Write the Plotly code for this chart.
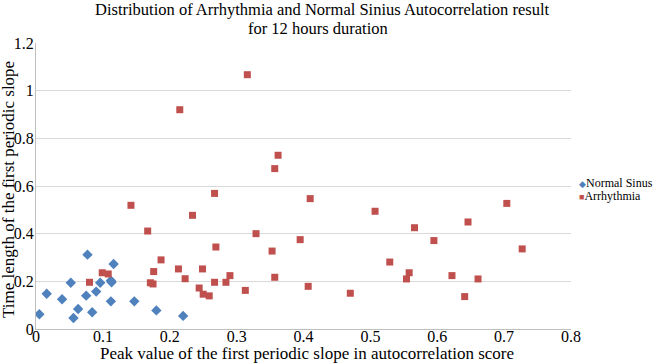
import plotly.graph_objects as go

normal_x = [0.005, 0.016, 0.039, 0.052, 0.056, 0.063, 0.075, 0.077, 0.084, 0.090,
            0.096, 0.112, 0.113, 0.112, 0.116, 0.147, 0.180, 0.220]
normal_y = [0.062, 0.148, 0.125, 0.194, 0.046, 0.084, 0.140, 0.312, 0.070, 0.157,
            0.194, 0.203, 0.196, 0.116, 0.273, 0.116, 0.078, 0.055]

arr_x = [0.080, 0.099, 0.108, 0.142, 0.167, 0.171, 0.175, 0.176, 0.187, 0.213,
         0.215, 0.223, 0.234, 0.244, 0.249, 0.250, 0.259, 0.267, 0.269, 0.267,
         0.284, 0.290, 0.313, 0.316, 0.329, 0.353, 0.357, 0.362, 0.357, 0.395,
         0.410, 0.407, 0.470, 0.507, 0.529, 0.558, 0.554, 0.566, 0.595, 0.622,
         0.641, 0.646, 0.661, 0.704, 0.727]
arr_y = [0.196, 0.236, 0.231, 0.519, 0.411, 0.194, 0.189, 0.241, 0.290, 0.252,
         0.920, 0.211, 0.477, 0.172, 0.252, 0.146, 0.139, 0.569, 0.344, 0.196,
         0.196, 0.224, 0.162, 1.067, 0.400, 0.327, 0.673, 0.729, 0.217, 0.375,
         0.547, 0.179, 0.150, 0.494, 0.281, 0.236, 0.210, 0.425, 0.371, 0.224,
         0.136, 0.449, 0.210, 0.527, 0.336]

title_lines = ["Distribution of Arrhythmia and Normal Sinius Autocorrelation result",
               "for 12 hours duration"]
x_title = "Peak value of the first periodic slope in autocorrelation score"
y_title = "Time length of the first periodic slope"
series_names = ["Normal Sinus", "Arrhythmia"]
series_colors = ["#4F81BD", "#C0504D"]

serif = "Times New Roman, Liberation Serif, serif"
W, H = 657, 364
L, R, T, B = 36, 86, 43, 35
PW, PH = W - L - R, H - T - B


def px(x):
    return (x - L) / PW


def py(y):
    return (H - B - y) / PH


fig = go.Figure()
fig.add_trace(go.Scatter(x=normal_x, y=normal_y, mode="markers", name=series_names[0],
                         marker=dict(symbol="diamond", size=8, color=series_colors[0])))
fig.add_trace(go.Scatter(x=arr_x, y=arr_y, mode="markers", name=series_names[1],
                         marker=dict(symbol="square", size=7, color=series_colors[1])))

ann = []
ann.append(dict(text=title_lines[0], x=px(322), y=py(10), size=16.5))
ann.append(dict(text=title_lines[1], x=px(318), y=py(28.5), size=16.5))
ann.append(dict(text=x_title, x=px(307), y=py(353), size=17))
ann.append(dict(text=y_title, x=px(8), y=py(190), textangle=-90, size=17))
for a in ann:
    s = a.pop("size")
    a.update(xref="paper", yref="paper", xanchor="center", yanchor="middle",
             showarrow=False, font=dict(family=serif, size=s, color="#000000"))

markers = ["\u25C6", "\u25A0"]
msizes = [9, 9]
ly = [182.5, 195.5]
for name, col, mk, ms, yy in zip(series_names, series_colors, markers, msizes, ly):
    ann.append(dict(text=f"<span style='color:{col};font-size:{ms}px'>{mk}</span>{name}",
                    xref="paper", yref="paper", x=px(577), y=py(yy),
                    xanchor="left", yanchor="middle", showarrow=False,
                    font=dict(family=serif, size=12, color="#000000")))

tick_font = dict(family=serif, size=16, color="#000000")

fig.update_layout(
    width=W, height=H,
    margin=dict(l=L, r=R, t=T, b=B, autoexpand=False),
    paper_bgcolor="white", plot_bgcolor="white",
    font=dict(family=serif, size=16, color="#000000"),
    showlegend=False,
    annotations=ann,
    xaxis=dict(range=[0, 0.8], dtick=0.1, tick0=0, showgrid=False, zeroline=False,
               showline=True, linecolor="#BFBFBF", linewidth=1, automargin=False,
               ticks="", tickfont=tick_font, ticklabelstandoff=-7),
    yaxis=dict(range=[0, 1.2], dtick=0.2, tick0=0, showgrid=True, gridcolor="#D9D9D9",
               zeroline=False, showline=True, linecolor="#BFBFBF", linewidth=1,
               automargin=False, ticks="", tickfont=tick_font, ticklabelstandoff=-2),
)

fig.write_html("out.html")
